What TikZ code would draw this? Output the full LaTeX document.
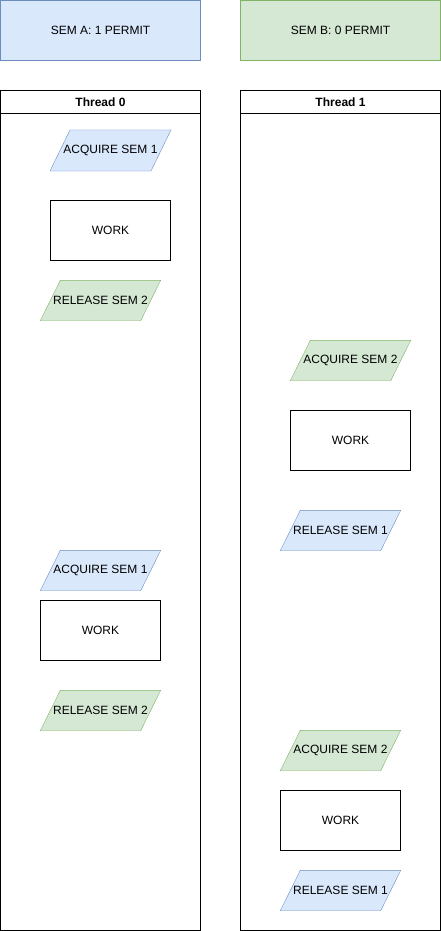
\documentclass[tikz,border=0pt]{standalone}
\usepackage{fontspec}
\setmainfont{Liberation Sans}
\usetikzlibrary{backgrounds}
\definecolor{semfillA}{HTML}{DAE8FC}
\definecolor{semdrawA}{HTML}{6C8EBF}
\definecolor{semfillB}{HTML}{D5E8D4}
\definecolor{semdrawB}{HTML}{82B366}
\tikzstyle{sem}=[rectangle, draw, minimum width=200pt, minimum height=60pt, inner sep=0pt]
\tikzstyle{lanehead}=[rectangle, draw, minimum width=200pt, minimum height=23pt, inner sep=0pt, font=\fontsize{12}{14}\selectfont\bfseries]
\tikzstyle{lanebody}=[rectangle, draw, minimum width=200pt, minimum height=817pt, inner sep=0pt]
\tikzstyle{iobox}=[rectangle, minimum width=120pt, minimum height=40pt, inner sep=0pt]
\tikzstyle{work}=[rectangle, draw, minimum width=120pt, minimum height=60pt, inner sep=0pt]
\tikzstyle{semA}=[fill=semfillA, draw=semdrawA]
\tikzstyle{semB}=[fill=semfillB, draw=semdrawB]
% slanted box: colour style, name, position, text
\newcommand{\io}[4]{%
  \node[iobox] (#2) at (#3) {#4};
  \begin{pgfonlayer}{background}
  \filldraw[#1] ([xshift=20pt]#2.north west) -- (#2.north east)
    -- ([xshift=-20pt]#2.south east) -- (#2.south west) -- cycle;
  \end{pgfonlayer}}
\newcommand{\job}{\node[work]}

\begin{document}
\begin{tikzpicture}[x=1pt, y=-1pt, line width=1pt
    ,every node/.style={font=\fontsize{12}{14}\selectfont}
]
\useasboundingbox (-0.5,-0.5) rectangle (440.5,930.5);
% semaphores
\node[sem, semA] (semA) at (100, 30) {SEM A: 1 PERMIT};
\node[sem, semB] (semB) at (340, 30) {SEM B: 0 PERMIT};
% lanes
\node[lanebody] (body0) at (100, 521.5) {};
\node[lanehead] (head0) at (100, 101.5) {Thread 0};
\node[lanebody] (body1) at (340, 521.5) {};
\node[lanehead] (head1) at (340, 101.5) {Thread 1};
% thread 0
\io{semA}{acq0a}{110, 150}{ACQUIRE SEM 1}
\job (work0a) at (110, 230) {WORK};
\io{semB}{rel0a}{100, 300}{RELEASE SEM 2}
\io{semA}{acq0b}{100, 570}{ACQUIRE SEM 1}
\job (work0b) at (100, 630) {WORK};
\io{semB}{rel0b}{100, 710}{RELEASE SEM 2}
% thread 1
\io{semB}{acq1a}{350, 360}{ACQUIRE SEM 2}
\job (work1a) at (350, 440) {WORK};
\io{semA}{rel1a}{340, 530}{RELEASE SEM 1}
\io{semB}{acq1b}{340, 750}{ACQUIRE SEM 2}
\job (work1b) at (340, 820) {WORK};
\io{semA}{rel1b}{340, 890}{RELEASE SEM 1}
\end{tikzpicture}
\end{document}
